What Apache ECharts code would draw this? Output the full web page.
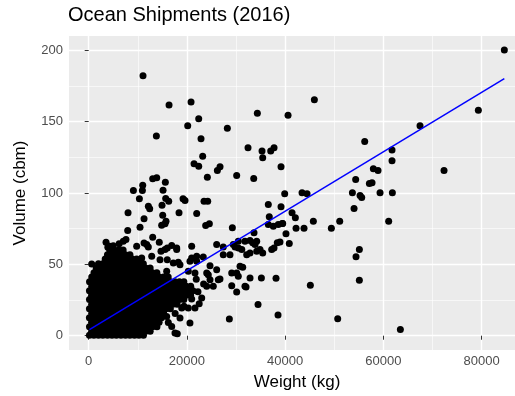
<!DOCTYPE html>
<html>
<head>
<meta charset="utf-8">
<title>Ocean Shipments (2016)</title>
<script src="https://cdn.jsdelivr.net/npm/echarts@6/dist/echarts.min.js"></script>
<style>
  html, body { margin: 0; padding: 0; background: #fff; }
  #chart { width: 515px; height: 396px; }
</style>
</head>
<body>
<div id="chart"></div>
<script>
// tick positions shown on the axes
const xTicks = [0, 20000, 40000, 60000, 80000];
const yTicks = [0, 50, 100, 150, 200];

// dense cluster near the origin, read row by row: [volume, [weights...]]
const denseRows = [
  [0.3, [150, 1060, 1990, 2880, 3820, 4740, 5630, 6570, 7490, 8380, 9320, 10220, 11150]],
  [3.2, [600, 1530, 2430, 3360, 4260, 5190, 6090, 7030, 7920, 8860, 9760, 10690, 11590, 12520]],
  [6.3, [160, 1080, 1970, 2910, 3800, 4720, 5660, 6550, 7470, 8400, 9300, 10240, 11130, 12070, 12960, 13900]],
  [9.5, [590, 1510, 2450, 3340, 4280, 5170, 6110, 7010, 7940, 8840, 9780, 10670, 11610, 12500, 13440, 14340]],
  [12.6, [140, 1070, 1990, 2890, 3810, 4740, 5640, 6570, 7480, 8380, 9320, 10220, 11150, 12050, 12980, 13880, 14820]],
  [15.8, [610, 1520, 2430, 3360, 4260, 5190, 6090, 7030, 7920, 8860, 9760, 10690, 11590, 12520, 13420, 14360, 15250]],
  [18.9, [150, 1060, 1980, 2900, 3820, 4720, 5650, 6560, 7490, 8390, 9300, 10230, 11140, 12070, 12960, 13900, 14800, 15730, 16630]],
  [22.1, [600, 1510, 2450, 3340, 4270, 5180, 6110, 7010, 7940, 8840, 9770, 10680, 11610, 12500, 13440, 14340, 15270, 16170, 17110, 18000]],
  [25.3, [160, 1070, 1980, 2890, 3810, 4740, 5640, 6560, 7480, 8400, 9310, 10220, 11150, 12050, 12970, 13890, 14810, 15720, 16650, 17540, 18480, 19380]],
  [28.4, [590, 1530, 2430, 3360, 4260, 5190, 6090, 7030, 7920, 8860, 9760, 10690, 11590, 12520, 13420, 14360, 15250, 16190, 17090, 18020, 18920, 19850, 20750]],
  [31.6, [150, 1060, 1990, 2900, 3800, 4730, 5660, 6550, 7480, 8380, 9320, 10230, 11130, 12060, 12980, 13880, 14820, 15710, 16640, 17560, 18460, 19400, 20290, 21230]],
  [34.7, [610, 1520, 2450, 3340, 4280, 5170, 6110, 7010, 7940, 8850, 9770, 10670, 11610, 12500, 13440, 14340, 15270, 16180, 17110, 18000, 18940, 19830, 20770]],
  [37.9, [170, 1070, 1980, 2910, 3810, 4740, 5640, 6570, 7470, 8400, 9300, 10240, 11140, 12070, 12960, 13900, 14800, 15730, 16630, 17560, 18470, 19380]],
  [41.1, [620, 1530, 2430, 3360, 4260, 5190, 6090, 7030, 7920, 8860, 9760, 10690, 11590, 12520, 13420, 14360, 15250, 16190]],
  [44.2, [1080, 1980, 2890, 3820, 4720, 5660, 6550, 7490, 8380, 9320, 10220, 11150, 12050, 12980, 13880]],
  [47.4, [1530, 2440, 3350, 4270, 5180, 6100, 7020, 7930, 8850, 9770, 10680, 11600, 12510]],
  [50.5, [1990, 2890, 3810, 4740, 5640, 6570, 7480, 8380, 9320, 10230, 11130]],
  [53.7, [3360, 4260, 5190, 6090, 7030, 7920, 8860, 9760]],
  [56.8, [3820, 4720, 5660, 6550, 7470, 8400]],
  [60.0, [4280, 5170, 6110, 7010]]
];

// individual shipments outside the dense cluster: [weight kg, volume cbm]
const shipments = [
  [11060, 182.2], [16360, 161.6], [20840, 163.7], [20160, 147.1], [22400, 152.0], [22870, 138.0],
  [13780, 139.9], [28230, 145.3], [34340, 155.8], [40590, 154.4], [45950, 165.4], [84630, 200.2],
  [79340, 157.9], [67460, 147.1], [72350, 115.8], [56200, 136.1], [61760, 130.1], [61760, 122.6],
  [61830, 100.1], [61080, 80.2], [59320, 100.1], [57960, 117.0], [58910, 115.8], [57150, 106.7],
  [57690, 107.1], [54360, 109.5], [53690, 100.1], [55250, 98.2], [55590, 96.8], [54030, 89.1],
  [51110, 80.2], [49410, 75.3], [55110, 60.4], [54430, 55.4], [55110, 38.8], [45130, 35.3],
  [50700, 11.9], [63460, 4.4], [45740, 80.2], [43440, 100.1], [44460, 99.4], [43840, 75.3],
  [42220, 75.3], [41400, 86.1], [42080, 82.6], [39910, 99.4], [39160, 90.3], [39160, 118.4],
  [37740, 131.7], [37060, 129.4], [35430, 124.7], [35290, 129.4], [32440, 131.7], [33600, 110.2],
  [30130, 112.3], [26200, 115.8], [26740, 118.4], [24160, 111.1], [23210, 125.8], [21450, 120.5],
  [22400, 118.8], [23480, 94.3], [24230, 94.3], [24570, 78.4], [23820, 77.2], [21990, 85.6],
  [19210, 95.9], [19610, 94.7], [18390, 86.1], [15610, 107.6], [15140, 102.0], [15680, 96.1],
  [16290, 94.3], [14930, 91.5], [15070, 84.4], [14860, 77.4], [15740, 80.2], [15540, 78.4],
  [13030, 109.9], [13850, 110.6], [12150, 90.8], [12420, 88.9], [11000, 105.5], [10930, 101.8],
  [10320, 95.9], [9100, 101.8], [11270, 81.9], [10450, 76.0], [8010, 86.1], [7940, 73.7],
  [13030, 69.0], [11270, 65.0], [3530, 65.5], [4280, 62.7], [29250, 75.6], [29120, 35.1],
  [30130, 30.6], [28640, 11.7], [32040, 34.2], [31360, 48.0], [32850, 40.5], [35160, 40.5],
  [38140, 40.2], [34480, 21.8], [38550, 14.5],
  [39500, 78.6], [40170, 71.4], [38950, 65.7], [40840, 64.6],
  [36570, 91.9], [36770, 83.3], [36570, 77.9], [37590, 76.7], [38600, 77.9], [39420, 78.6],
  [33660, 72.1], [32840, 66.8], [33390, 65.1], [33860, 63.9], [32840, 58.0], [34880, 60.4],
  [35430, 58.0], [37260, 60.4], [37730, 61.5], [38400, 65.1],
  [31820, 66.2], [30460, 66.2], [29440, 63.9], [26060, 63.9], [27400, 62.2], [20970, 62.7], [17920, 61.5],
  [7050, 66.2], [7590, 67.4], [9770, 62.7], [11810, 63.9], [12140, 62.2], [14370, 65.5],
  [16000, 61.5], [16900, 63.2], [12830, 55.6], [10790, 54.5], [5000, 63.0], [6200, 64.5], [3900, 62.0],
  [610, 50.3], [14720, 59.2], [15540, 60.4], [17920, 60.4], [14520, 53.3], [16000, 53.3],
  [18240, 51.4], [20620, 52.1], [21990, 52.1], [23330, 55.2], [27400, 56.8], [28770, 56.8],
  [29810, 62.2], [30480, 61.5], [31170, 60.4], [24700, 49.1], [26060, 46.3], [24350, 42.8],
  [26730, 39.8], [31820, 34.6], [34210, 59.2],
  [20970, 25.8], [19400, 20.6], [20280, 19.4], [21640, 19.4], [23010, 26.5], [20620, 8.9],
  [15880, 13.5], [16210, 9.3], [17570, 1.9], [18040, 1.4], [18940, 19.4], [18590, 12.4],
  [32170, 56.8], [34210, 66.2], [17230, 51.0], [18590, 49.8], [20970, 54.5], [21990, 55.6],
  [24030, 44.0], [21640, 44.0], [20280, 45.1], [15880, 45.1], [26390, 39.3], [24700, 39.3],
  [24030, 34.6], [25370, 34.6], [29120, 44.0], [30130, 44.0], [30460, 41.6], [30810, 48.6],
  [22250, 30.8], [23400, 36.2], [21900, 39.5], [17600, 15.6], [16900, 6.4], [22500, 22.4]
];

// end points of the fitted linear trend (blue line)
const fitWeight = [150, 84630];
const fitVolume = [4.3, 180.1];

const font = '"Liberation Sans", Arial, sans-serif';

const points = [];
denseRows.forEach(([vol, weights]) => weights.forEach((w) => points.push([w, vol])));
shipments.forEach((p) => points.push(p));

const chart = echarts.init(document.getElementById('chart'));

chart.setOption({
  animation: false,
  backgroundColor: '#ffffff',
  title: {
    text: 'Ocean Shipments (2016)',
    left: 68,
    top: 5,
    padding: 0,
    textStyle: { fontFamily: font, fontSize: 20, fontWeight: 'normal', color: '#000000' },
  },
  grid: {
    left: 69,
    right: 0,
    top: 36,
    bottom: 46,
    show: true,
    backgroundColor: '#EBEBEB',
    borderWidth: 0,
  },
  xAxis: {
    type: 'value',
    min: -4010,
    max: 86800,
    splitNumber: 5,
    name: 'Weight (kg)',
    nameLocation: 'middle',
    nameGap: 24,
    nameTextStyle: { fontFamily: font, fontSize: 17, color: '#000000', padding: [0, 0, 0, 10] },
    axisLine: { show: false },
    axisTick: { show: true, length: 4, customValues: xTicks, lineStyle: { color: '#333333', width: 1 } },
    axisLabel: {
      customValues: xTicks,
      margin: 5,
      color: '#4D4D4D',
      fontFamily: font,
      fontSize: 13,
      formatter: (v) => String(v),
    },
    splitLine: { show: true, lineStyle: { color: '#ffffff', width: 1.4 } },
    minorTick: { show: false, splitNumber: 2 },
    minorSplitLine: { show: true, lineStyle: { color: '#ffffff', width: 0.6 } },
  },
  yAxis: {
    type: 'value',
    min: -10,
    max: 210,
    splitNumber: 5,
    name: 'Volume (cbm)',
    nameLocation: 'middle',
    nameGap: 40,
    nameTextStyle: { fontFamily: font, fontSize: 17, color: '#000000' },
    axisLine: { show: false },
    axisTick: { show: true, length: 4, customValues: yTicks, lineStyle: { color: '#333333', width: 1 } },
    axisLabel: {
      customValues: yTicks,
      margin: 6,
      color: '#4D4D4D',
      fontFamily: font,
      fontSize: 13,
      formatter: (v) => String(v),
    },
    splitLine: { show: true, lineStyle: { color: '#ffffff', width: 1.4 } },
    minorTick: { show: false, splitNumber: 2 },
    minorSplitLine: { show: true, lineStyle: { color: '#ffffff', width: 0.6 } },
  },
  series: [
    {
      type: 'scatter',
      data: points,
      symbol: 'circle',
      symbolSize: 7,
      itemStyle: { color: '#000000', opacity: 1 },
      emphasis: { disabled: true },
      z: 2,
    },
    {
      type: 'line',
      data: fitWeight.map((w, i) => [w, fitVolume[i]]),
      symbol: 'none',
      lineStyle: { color: '#0000FF', width: 1.5 },
      emphasis: { disabled: true },
      z: 3,
    },
  ],
});
</script>
</body>
</html>
